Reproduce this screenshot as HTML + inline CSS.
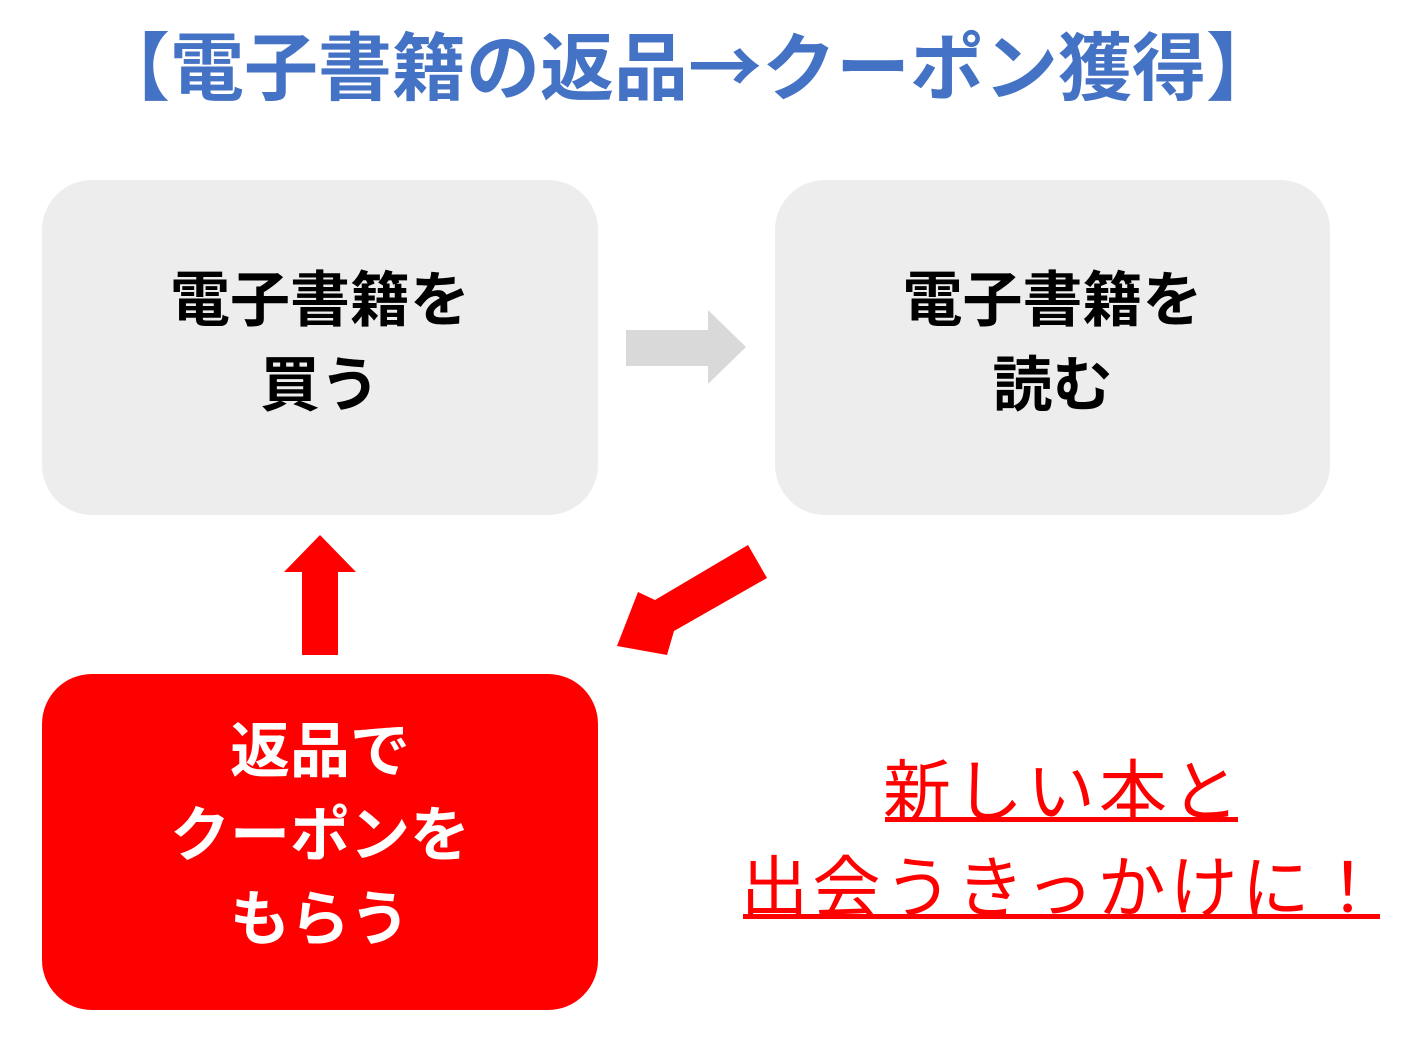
<!DOCTYPE html>
<html><head><meta charset="utf-8">
<style>
html,body{margin:0;padding:0;background:#fff;}
body{width:1413px;height:1037px;position:relative;overflow:hidden;font-family:"Liberation Sans","Noto Sans CJK JP",sans-serif;}
.t{position:absolute;white-space:nowrap;text-align:center;}
.box{position:absolute;border-radius:50px;}
</style></head><body>
<div class="t" style="left:0;width:1376px;top:21px;font-size:74px;line-height:84px;color:#4472C4;font-weight:bold;">【電子書籍の返品<span style="font-family:'Noto Sans CJK JP',sans-serif;">→</span>クーポン獲得】</div>

<div class="box" style="left:42px;top:180px;width:556px;height:335px;background:#EDEDED;"></div>
<div class="box" style="left:775px;top:180px;width:555px;height:335px;background:#EDEDED;"></div>
<div class="box" style="left:42px;top:674px;width:556px;height:336px;background:#FF0000;"></div>

<div class="t" style="left:42px;width:556px;top:258px;font-size:60px;line-height:85px;font-weight:bold;color:#000;">電子書籍を<br>買う</div>
<div class="t" style="left:775px;width:555px;top:258px;font-size:60px;line-height:85px;font-weight:bold;color:#000;">電子書籍を<br>読む</div>
<div class="t" style="left:42px;width:556px;top:710px;font-size:60px;line-height:84px;font-weight:bold;color:#fff;">返品で<br>クーポンを<br>もらう</div>

<div class="t" style="left:700px;width:726px;top:745px;font-size:68px;line-height:96px;color:#FF0000;letter-spacing:4px;">新しい本と<br>出会うきっかけに！</div>
<div style="position:absolute;left:885px;top:817px;width:353px;height:5px;background:#FF0000;"></div>
<div style="position:absolute;left:743px;top:914px;width:637px;height:5px;background:#FF0000;"></div>

<svg width="1413" height="1037" style="position:absolute;left:0;top:0;">
<polygon points="626,330 708,330 708,310 746,347 708,384 708,366 626,366" fill="#D9D9D9"/>
<polygon points="302,655 302,572 284,572 320,535 356,572 338,572 338,655" fill="#FF0000"/>
<polygon points="767,578 748,545 655,600 638,592 617,646 667,655 674,631" fill="#FF0000"/>
</svg>
</body></html>
